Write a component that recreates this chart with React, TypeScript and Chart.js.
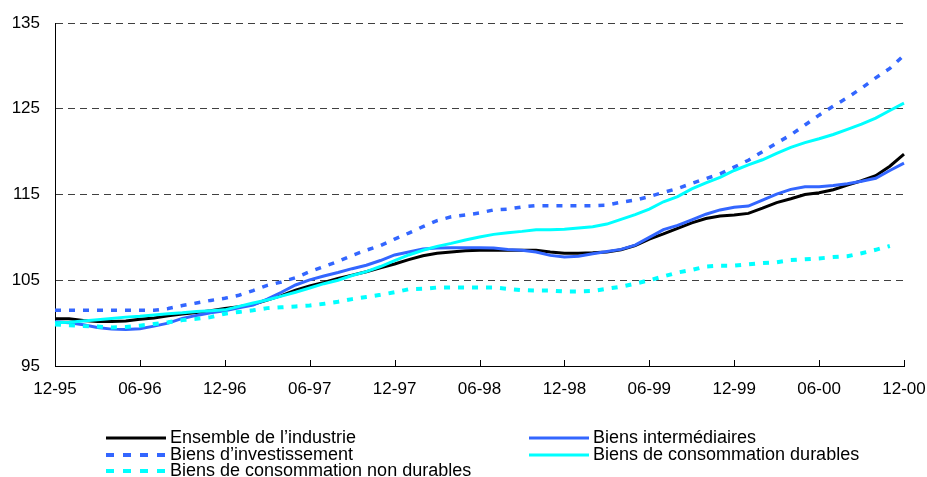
import React, { useEffect, useRef } from "react";
import { Chart, registerables } from "chart.js";

Chart.register(...registerables);

const monthLabels = [
  "12-95",
  "01-96", "02-96", "03-96", "04-96", "05-96", "06-96", "07-96", "08-96", "09-96", "10-96", "11-96", "12-96",
  "01-97", "02-97", "03-97", "04-97", "05-97", "06-97", "07-97", "08-97", "09-97", "10-97", "11-97", "12-97",
  "01-98", "02-98", "03-98", "04-98", "05-98", "06-98", "07-98", "08-98", "09-98", "10-98", "11-98", "12-98",
  "01-99", "02-99", "03-99", "04-99", "05-99", "06-99", "07-99", "08-99", "09-99", "10-99", "11-99", "12-99",
  "01-00", "02-00", "03-00", "04-00", "05-00", "06-00", "07-00", "08-00", "09-00", "10-00", "11-00", "12-00",
];

const shownTickLabels = ["12-95", "06-96", "12-96", "06-97", "12-97", "06-98", "12-98", "06-99", "12-99", "06-00", "12-00"];

const yTicks = [95, 105, 115, 125, 135];

const ensemble = [
  100.5, 100.5, 100.3, 100.2, 100.2, 100.25, 100.45, 100.6, 100.85, 101.05, 101.25, 101.45, 101.7,
  101.9, 102.2, 102.7, 103.2, 103.85, 104.35, 104.75, 105.2, 105.6, 106.0, 106.45, 106.9,
  107.4, 107.85, 108.15, 108.3, 108.45, 108.5, 108.5, 108.5, 108.5, 108.5, 108.3, 108.15,
  108.15, 108.2, 108.3, 108.55, 109.05, 109.8, 110.4, 111.05, 111.7, 112.2, 112.5, 112.6,
  112.8, 113.4, 114.05, 114.5, 115.0, 115.2, 115.55, 116.1, 116.6, 117.2, 118.3, 119.7,
];

const intermediaires = [
  100.15, 100.05, 99.8, 99.5, 99.3, 99.25, 99.35, 99.65, 100.0, 100.55, 100.9, 101.2, 101.45,
  101.8, 102.1, 102.8, 103.6, 104.45, 105.05, 105.5, 105.9, 106.35, 106.75, 107.3, 107.95,
  108.3, 108.65, 108.75, 108.8, 108.8, 108.8, 108.75, 108.6, 108.5, 108.3, 107.9, 107.7,
  107.8, 108.1, 108.35, 108.6, 109.1, 110.0, 110.9, 111.4, 112.05, 112.7, 113.2, 113.5,
  113.65, 114.35, 115.05, 115.6, 115.9, 115.9, 116.05, 116.25, 116.55, 116.9, 117.8, 118.65,
];

const investissement = [
  101.5, 101.5, 101.5, 101.5, 101.5, 101.5, 101.5, 101.5, 101.7, 102.05, 102.35, 102.65, 102.9,
  103.25, 103.8, 104.4, 104.8, 105.3, 106.0, 106.6, 107.2, 107.9, 108.5, 109.05, 109.8,
  110.5, 111.25, 111.95, 112.4, 112.6, 112.85, 113.2, 113.3, 113.55, 113.7, 113.7, 113.7,
  113.7, 113.7, 113.75, 114.1, 114.35, 114.75, 115.25, 115.7, 116.3, 116.85, 117.4, 118.2,
  119.0, 120.0, 121.0, 121.95, 123.1, 124.25, 125.3, 126.3, 127.4, 128.6, 129.7, 131.25,
];

const durables = [
  100.05, 100.1, 100.25, 100.4, 100.55, 100.7, 100.8, 100.95, 101.1, 101.2, 101.35, 101.45, 101.55,
  101.95, 102.35, 102.7, 103.15, 103.6, 104.1, 104.6, 105.0, 105.55, 106.0, 106.6, 107.3,
  107.95, 108.5, 108.95, 109.3, 109.7, 110.05, 110.35, 110.55, 110.7, 110.9, 110.9, 110.95,
  111.1, 111.25, 111.55, 112.1, 112.65, 113.3, 114.15, 114.75, 115.65, 116.35, 117.0, 117.8,
  118.45, 119.05, 119.8, 120.5, 121.05, 121.5, 122.0, 122.6, 123.2, 123.9, 124.8, 125.65,
];

const nonDurables = [
  99.85, 99.75, 99.65, 99.6, 99.5, 99.55, 99.7, 99.9, 100.1, 100.35, 100.5, 100.7, 101.1,
  101.3, 101.5, 101.75, 101.85, 101.95, 102.05, 102.25, 102.5, 102.8, 103.05, 103.3, 103.6,
  103.95, 104.0, 104.15, 104.15, 104.15, 104.15, 104.15, 104.0, 103.85, 103.8, 103.8, 103.7,
  103.7, 103.75, 104.0, 104.25, 104.6, 105.0, 105.45, 105.9, 106.2, 106.6, 106.7, 106.7,
  106.85, 107.0, 107.1, 107.35, 107.45, 107.55, 107.7, 107.8, 108.15, 108.55, 109.0, null,
];

const seriesNames = [
  "Ensemble de l’industrie",
  "Biens intermédiaires",
  "Biens d’investissement",
  "Biens de consommation durables",
  "Biens de consommation non durables",
];

const FONT = '"Liberation Sans", Arial, Helvetica, sans-serif';
const BLUE = "#3366FF";
const CYAN = "#00FFFF";

const tickMarksPlugin = {
  id: "tickMarksInside",
  afterDraw(chart: any) {
    const ctx = chart.ctx;
    const xs = chart.scales.x;
    const bottom = chart.chartArea.bottom;
    ctx.save();
    ctx.strokeStyle = "#000";
    ctx.lineWidth = 1;
    monthLabels.forEach((lab, i) => {
      if (!shownTickLabels.includes(lab)) return;
      const x = Math.round(xs.getPixelForValue(i)) + 0.5;
      ctx.beginPath();
      ctx.moveTo(x, bottom - 6);
      ctx.lineTo(x, bottom);
      ctx.stroke();
    });
    ctx.restore();
  },
};

const legendPlugin = {
  id: "twoColumnLegend",
  afterDraw(chart: any) {
    const ctx = chart.ctx;
    const items = [
      { ds: 0, x: 106, y: 438 },
      { ds: 1, x: 529, y: 438 },
      { ds: 2, x: 106, y: 455 },
      { ds: 3, x: 529, y: 455 },
      { ds: 4, x: 106, y: 471 },
    ];
    ctx.save();
    ctx.font = "18px " + FONT;
    ctx.textBaseline = "middle";
    ctx.textAlign = "left";
    items.forEach((it) => {
      const ds = chart.data.datasets[it.ds];
      ctx.strokeStyle = ds.borderColor;
      ctx.lineWidth = ds.borderDash ? 4 : 3;
      ctx.setLineDash(ds.borderDash ? [8, 9] : []);
      ctx.beginPath();
      ctx.moveTo(it.x, it.y);
      ctx.lineTo(it.x + 60, it.y);
      ctx.stroke();
      ctx.setLineDash([]);
      ctx.fillStyle = "#000";
      ctx.fillText(ds.label, it.x + 64, it.y);
    });
    ctx.restore();
  },
};

export default function App() {
  const canvasRef = useRef<HTMLCanvasElement | null>(null);

  useEffect(() => {
    if (!canvasRef.current) return;
    const chart = new Chart(canvasRef.current, {
      type: "line",
      data: {
        labels: monthLabels,
        datasets: [
          { label: seriesNames[0], data: ensemble, borderColor: "#000000", borderWidth: 3, order: 5 },
          { label: seriesNames[1], data: intermediaires, borderColor: BLUE, borderWidth: 3, order: 4 },
          { label: seriesNames[2], data: investissement, borderColor: BLUE, borderWidth: 3.5, borderDash: [6, 8], order: 3 },
          { label: seriesNames[3], data: durables, borderColor: CYAN, borderWidth: 3, order: 2 },
          { label: seriesNames[4], data: nonDurables, borderColor: CYAN, borderWidth: 4, borderDash: [6, 8], order: 1 },
        ].map((d) => ({ ...d, pointRadius: 0, pointHoverRadius: 0, tension: 0, fill: false, spanGaps: false })),
      },
      options: {
        responsive: false,
        devicePixelRatio: 1,
        animation: false,
        events: [],
        layout: { padding: { left: 0, right: 23, top: 23, bottom: 0 } },
        plugins: { legend: { display: false }, tooltip: { enabled: false }, title: { display: false } },
        scales: {
          x: {
            type: "category",
            offset: false,
            grid: { display: true, drawOnChartArea: false, drawTicks: false, color: "rgba(0,0,0,0)" },
            border: { display: true, color: "#000", width: 1 },
            ticks: {
              autoSkip: false,
              maxRotation: 0,
              minRotation: 0,
              padding: 13,
              color: "#000",
              font: { family: FONT, size: 17 },
              callback: (val: any, idx: number) =>
                shownTickLabels.includes(monthLabels[idx]) ? monthLabels[idx] : null,
            },
            afterFit: (s: any) => {
              s.height = 111;
              s.paddingLeft = 0;
              s.paddingRight = 0;
            },
          },
          y: {
            type: "linear",
            min: yTicks[0],
            max: yTicks[yTicks.length - 1],
            afterBuildTicks: (s: any) => {
              s.ticks = yTicks.map((v) => ({ value: v }));
            },
            grid: {
              drawTicks: false,
              lineWidth: 1,
              color: (c: any) => (c.tick && c.tick.value === yTicks[0] ? "rgba(0,0,0,0)" : "#404040"),
            },
            border: { display: true, color: "#000", width: 1, dash: [7, 5] },
            ticks: {
              padding: 15,
              color: "#000",
              font: { family: FONT, size: 17 },
            },
            afterFit: (s: any) => {
              s.width = 55;
              s.paddingTop = 0;
              s.paddingBottom = 0;
            },
          },
        },
      },
      plugins: [tickMarksPlugin, legendPlugin],
    } as any);
    return () => chart.destroy();
  }, []);

  return (
    <div style={{ position: "absolute", left: 0, top: 0, width: 927, height: 477, background: "#fff" }}>
      <canvas ref={canvasRef} width={927} height={477} style={{ display: "block" }} />
    </div>
  );
}
